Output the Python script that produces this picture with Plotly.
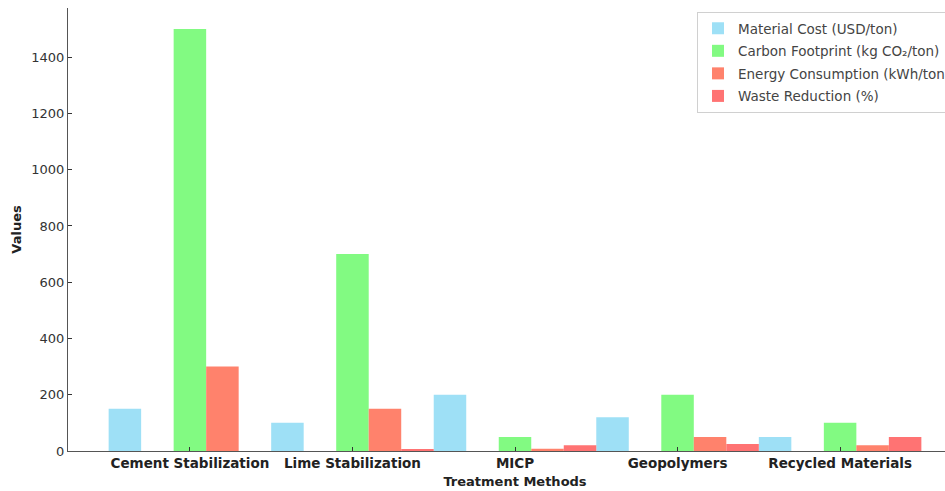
import plotly.graph_objects as go

categories = ["Cement Stabilization", "Lime Stabilization", "MICP", "Geopolymers", "Recycled Materials"]
material_cost = [150, 100, 200, 120, 50]
carbon_footprint = [1500, 700, 50, 200, 100]
energy_consumption = [300, 150, 8, 50, 20]
waste_reduction = [0, 4, 20, 25, 50]

series = [
    ("Material Cost (USD/ton)", material_cost, "#9EE0F6", -0.5),
    ("Carbon Footprint (kg CO₂/ton)", carbon_footprint, "#82FA82", -0.1),
    ("Energy Consumption (kWh/ton)", energy_consumption, "#FF826C", 0.1),
    ("Waste Reduction (%)", waste_reduction, "#FF7373", 0.3),
]

fig = go.Figure()
for i, (name, vals, color, off) in enumerate(series):
    fig.add_trace(go.Bar(
        x=categories, y=vals, name=name, legendgroup=f"g{i}",
        marker=dict(color=color, line=dict(width=0)),
        width=0.2, offset=off,
    ))

axis_font = dict(family="DejaVu Sans", size=13, color="#333333")
fig.update_layout(
    width=970, height=491,
    margin=dict(l=68, r=8, t=8, b=40),
    barmode="overlay",
    plot_bgcolor="white", paper_bgcolor="white",
    font=dict(family="DejaVu Sans", size=13, color="#333333"),
    showlegend=True,
    legend=dict(
        x=0.7036, y=0.991, xanchor="left", yanchor="top",
        bgcolor="rgba(255,255,255,0.9)", bordercolor="#d0d0d0", borderwidth=1,
        font=dict(family="DejaVu Sans", size=13.5, color="#444444"),
        tracegroupgap=2, itemsizing="constant",
    ),
    xaxis=dict(
        type="category", range=[-0.75, 4.75], automargin=False,
        showline=True, linecolor="#555555", linewidth=1.3,
        ticks="inside", ticklen=4, tickcolor="#333333",
        tickfont=dict(family="DejaVu Sans", size=13.5, color="#222222", weight="bold"),
        title=dict(text="<b>Treatment Methods</b>", font=dict(family="DejaVu Sans", size=13, color="#222222"), standoff=6),
        showgrid=False, zeroline=False, fixedrange=True,
    ),
    yaxis=dict(
        range=[0, 1575], automargin=False,
        tickvals=[0, 200, 400, 600, 800, 1000, 1200, 1400],
        showline=True, linecolor="#555555", linewidth=1.3,
        ticks="inside", ticklen=4, tickcolor="#333333",
        tickfont=axis_font,
        title=dict(text="<b>Values</b>", font=dict(family="DejaVu Sans", size=13, color="#222222"), standoff=6),
        showgrid=False, zeroline=False,
    ),
)

fig.write_html(
    "out.html",
    config={"displayModeBar": False},
    post_script="document.body.style.margin='0px';document.body.style.overflow='hidden';",
)
